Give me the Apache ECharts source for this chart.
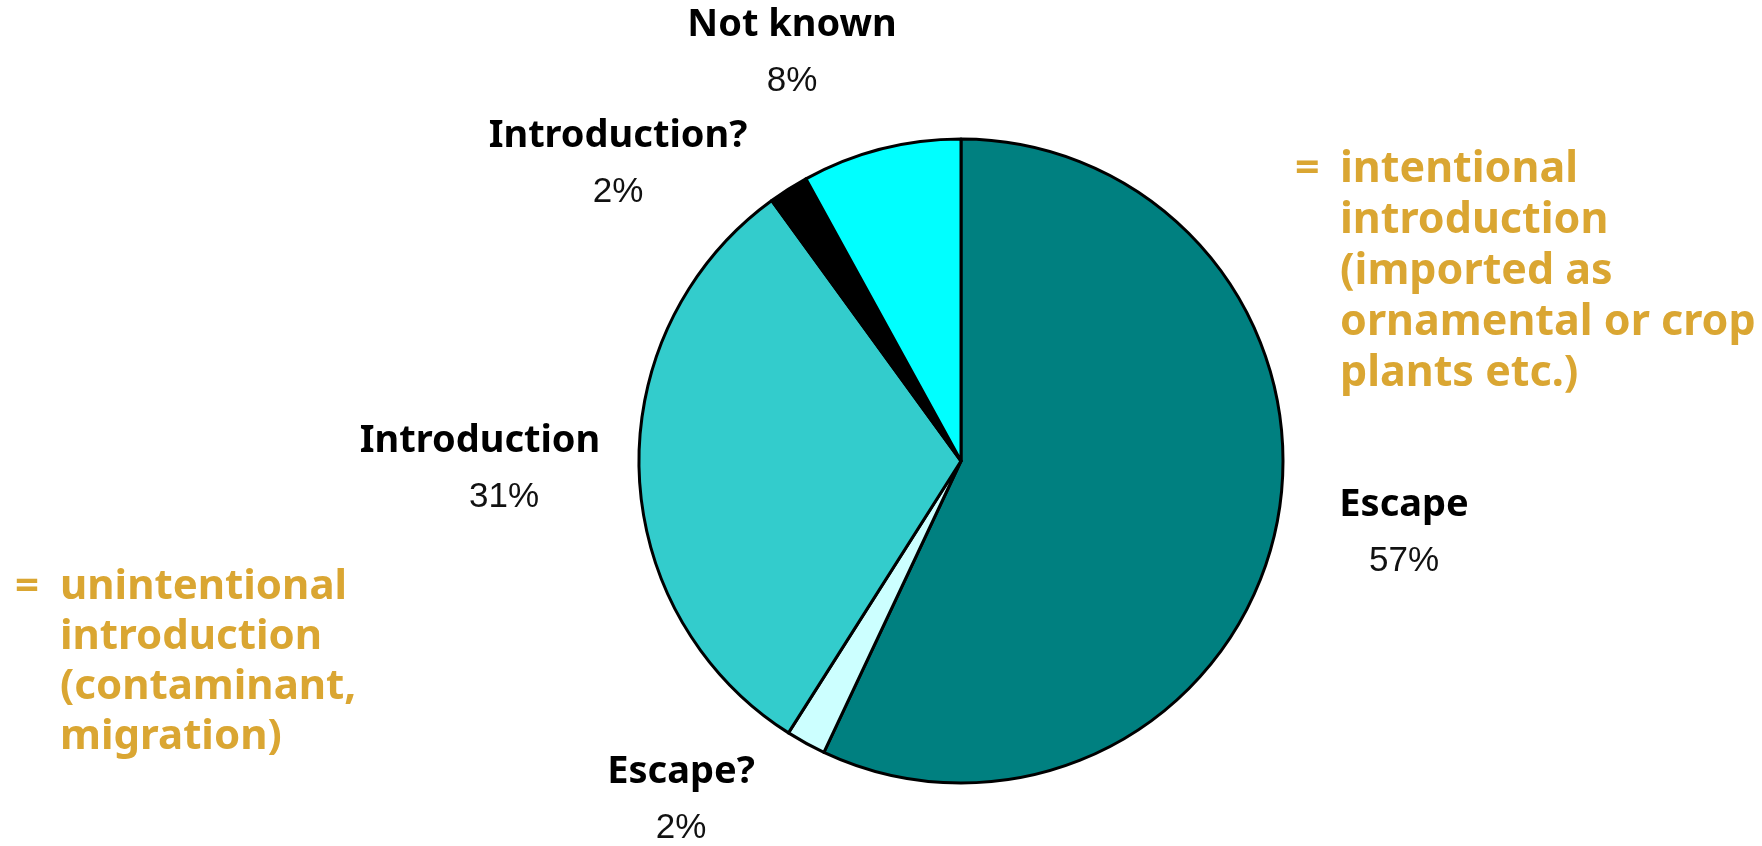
<!DOCTYPE html>
<html lang="en">
<head>
<meta charset="UTF-8">
<title>Pathways</title>
<style>
  html, body { margin: 0; padding: 0; background: #fff; }
  #chart { width: 1762px; height: 846px; }
</style>
</head>
<body>
<div id="chart"></div>
<script src="https://cdn.jsdelivr.net/npm/echarts@6/dist/echarts.min.js"></script>
<script>
// data
var categories = ['Escape', 'Escape?', 'Introduction', 'Introduction?', 'Not known'];
var shares = [57, 2, 31, 2, 8];
var sliceColors = ['#008080', '#CCFFFF', '#33CCCC', '#000000', '#00FFFF'];
// where each label block sits (centre of name + percent)
var labelPos = [[1404, 533], [681, 800], [480, 469], [618, 164], [792, 53]];
// the percent under "Introduction" sits a bit right of the name
var pctShift = [0, 0, 48, 0, 0];

var rightNote = ['intentional', 'introduction', '(imported as', 'ornamental or crop', 'plants etc.)'];
var leftNote = ['unintentional', 'introduction', '(contaminant,', 'migration)'];

var gold = '#DAA632';
var boldFont = '"Noto Sans", "DejaVu Sans", sans-serif';

var chart = echarts.init(document.getElementById('chart'));

var option = {
  animation: false,
  backgroundColor: '#fff',
  graphic: [
    { type: 'text', left: 1295, top: 144, style: { text: '=', fill: gold, font: 'bold 43px ' + boldFont, lineHeight: 51 } },
    { type: 'text', left: 1340, top: 144, style: { text: rightNote.join('\n'), fill: gold, font: 'bold 43px ' + boldFont, lineHeight: 51 } },
    { type: 'text', left: 15, top: 562, style: { text: '=', fill: gold, font: 'bold 42px ' + boldFont, lineHeight: 50 } },
    { type: 'text', left: 60, top: 562, style: { text: leftNote.join('\n'), fill: gold, font: 'bold 42px ' + boldFont, lineHeight: 50 } }
  ],
  series: [{
    type: 'pie',
    center: [961, 461],
    radius: 322,
    startAngle: 90,
    clockwise: true,
    avoidLabelOverlap: false,
    itemStyle: { borderColor: '#000', borderWidth: 3 },
    label: {
      show: true,
      position: 'outside',
      formatter: function (p) { return '{n|' + p.name + '}\n{p|' + p.value + '%}'; },
      rich: {
        n: { fontFamily: boldFont, fontWeight: 'bold', fontSize: 38, color: '#000', lineHeight: 56, align: 'center' },
        p: { fontFamily: '"Liberation Sans", Arial, sans-serif', fontSize: 35, color: '#111', lineHeight: 56, align: 'center' }
      }
    },
    labelLine: { show: false },
    labelLayout: function (params) {
      var p = labelPos[params.dataIndex];
      return { x: p[0], y: p[1], align: 'center', verticalAlign: 'middle' };
    },
    emphasis: { disabled: true },
    data: categories.map(function (c, i) {
      var item = { name: c, value: shares[i], itemStyle: { color: sliceColors[i] } };
      if (pctShift[i]) {
        item.label = { rich: { p: { padding: [0, 0, 0, pctShift[i]] } } };
      }
      return item;
    })
  }]
};

chart.setOption(option);
</script>
</body>
</html>
